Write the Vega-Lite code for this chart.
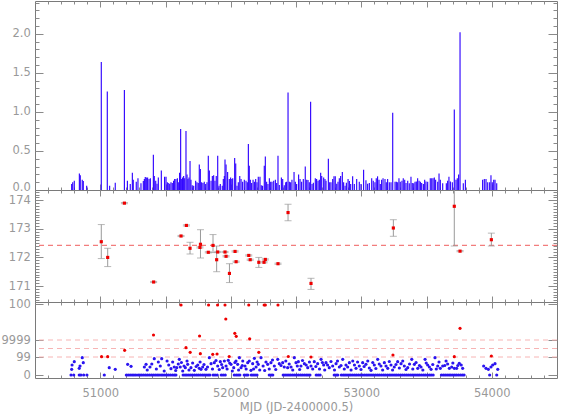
{
"$schema": "https://vega.github.io/schema/vega-lite/v6.json",
"background": "white",
"padding": {"left": 0, "top": 0, "right": 5, "bottom": 5},
"spacing": 0,
"bounds": "flush",
"config": {
  "view": {"stroke": "#7a7a7a", "strokeWidth": 1},
  "axis": {"domain": false, "grid": false, "labelFont": "DejaVu Sans", "labelFontSize": 11.5, "labelColor": "#999999", "tickColor": "#8a8a8a", "titleFont": "DejaVu Sans", "titleFontSize": 11.5, "titleColor": "#999999", "titleFontWeight": "normal", "labelFlush": false, "labelOverlap": false}
},
"datasets": {
  "flux": [
{"m":50781,"f":0.077},{"m":50789,"f":0.10},{"m":50801,"f":0.12},{"m":50840,"f":0.21},{"m":50847,"f":0.19},{"m":50862,"f":0.13},{"m":50870,"f":0.115},{"m":50896,"f":0.055},{"m":51008,"f":1.64},{"m":51054,"f":1.26},{"m":51072,"f":0.055},{"m":51115,"f":0.094},{"m":51185,"f":1.28},{"m":51208,"f":0.12},{"m":51230,"f":0.077},{"m":51246,"f":0.22},{"m":51253,"f":0.13},{"m":51276,"f":0.107},{"m":51289,"f":0.15},{"m":51312,"f":0.085},{"m":51330,"f":0.115},{"m":51338,"f":0.14},{"m":51345,"f":0.167},{"m":51353,"f":0.16},{"m":51363,"f":0.16},{"m":51374,"f":0.14},{"m":51384,"f":0.15},{"m":51407,"f":0.45},{"m":51414,"f":0.18},{"m":51425,"f":0.12},{"m":51435,"f":0.08},{"m":51445,"f":0.16},{"m":51468,"f":0.25},{"m":51493,"f":0.17},{"m":51504,"f":0.17},{"m":51514,"f":0.10},{"m":51521,"f":0.09},{"m":51532,"f":0.08},{"m":51542,"f":0.10},{"m":51552,"f":0.09},{"m":51562,"f":0.12},{"m":51570,"f":0.14},{"m":51580,"f":0.14},{"m":51591,"f":0.15},{"m":51601,"f":0.10},{"m":51608,"f":0.22},{"m":51616,"f":0.78},{"m":51624,"f":0.14},{"m":51631,"f":0.16},{"m":51639,"f":0.18},{"m":51647,"f":0.15},{"m":51657,"f":0.755},{"m":51665,"f":0.20},{"m":51672,"f":0.14},{"m":51680,"f":0.16},{"m":51688,"f":0.37},{"m":51695,"f":0.13},{"m":51705,"f":0.06},{"m":51716,"f":0.055},{"m":51731,"f":0.12},{"m":51741,"f":0.10},{"m":51751,"f":0.09},{"m":51759,"f":0.325},{"m":51767,"f":0.27},{"m":51777,"f":0.10},{"m":51787,"f":0.09},{"m":51797,"f":0.107},{"m":51808,"f":0.077},{"m":51818,"f":0.10},{"m":51828,"f":0.44},{"m":51836,"f":0.25},{"m":51849,"f":0.12},{"m":51859,"f":0.18},{"m":51869,"f":0.19},{"m":51879,"f":0.12},{"m":51889,"f":0.18},{"m":51900,"f":0.44},{"m":51910,"f":0.055},{"m":51920,"f":0.077},{"m":51935,"f":0.055},{"m":51943,"f":0.14},{"m":51951,"f":0.18},{"m":51956,"f":0.39},{"m":51964,"f":0.325},{"m":51976,"f":0.23},{"m":51989,"f":0.14},{"m":51999,"f":0.16},
{"m":52008,"f":0.14},{"m":52015,"f":0.15},{"m":52030,"f":0.41},{"m":52038,"f":0.34},{"m":52048,"f":0.055},{"m":52058,"f":0.10},{"m":52069,"f":0.18},{"m":52079,"f":0.14},{"m":52091,"f":0.107},{"m":52104,"f":0.13},{"m":52117,"f":0.12},{"m":52127,"f":0.10},{"m":52135,"f":0.59},{"m":52142,"f":0.31},{"m":52150,"f":0.13},{"m":52160,"f":0.09},{"m":52171,"f":0.13},{"m":52181,"f":0.107},{"m":52191,"f":0.14},{"m":52201,"f":0.10},{"m":52211,"f":0.17},{"m":52224,"f":0.17},{"m":52234,"f":0.06},{"m":52244,"f":0.055},{"m":52257,"f":0.31},{"m":52265,"f":0.43},{"m":52275,"f":0.107},{"m":52285,"f":0.077},{"m":52296,"f":0.15},{"m":52306,"f":0.107},{"m":52316,"f":0.107},{"m":52329,"f":0.12},{"m":52342,"f":0.13},{"m":52352,"f":0.09},{"m":52362,"f":0.44},{"m":52372,"f":0.064},{"m":52388,"f":0.16},{"m":52398,"f":0.14},{"m":52410,"f":0.06},{"m":52421,"f":0.10},{"m":52428,"f":0.107},{"m":52439,"f":1.25},{"m":52449,"f":0.107},{"m":52459,"f":0.10},{"m":52469,"f":0.13},{"m":52485,"f":0.23},{"m":52495,"f":0.107},{"m":52505,"f":0.077},{"m":52520,"f":0.20},{"m":52531,"f":0.14},{"m":52543,"f":0.107},{"m":52556,"f":0.14},{"m":52571,"f":0.30},{"m":52582,"f":0.13},{"m":52592,"f":0.128},{"m":52602,"f":0.10},{"m":52612,"f":1.13},{"m":52623,"f":0.077},{"m":52633,"f":0.094},{"m":52648,"f":0.15},{"m":52658,"f":0.14},{"m":52669,"f":0.12},{"m":52679,"f":0.13},{"m":52689,"f":0.22},{"m":52697,"f":0.18},{"m":52712,"f":0.16},{"m":52722,"f":0.14},{"m":52730,"f":0.12},{"m":52748,"f":0.40},{"m":52758,"f":0.10},{"m":52768,"f":0.10},{"m":52781,"f":0.14},{"m":52791,"f":0.175},{"m":52801,"f":0.175},{"m":52812,"f":0.08},{"m":52822,"f":0.107},{"m":52832,"f":0.15},{"m":52842,"f":0.18},{"m":52855,"f":0.23},{"m":52865,"f":0.10},{"m":52876,"f":0.055},{"m":52886,"f":0.094},{"m":52899,"f":0.14},{"m":52909,"f":0.115},{"m":52919,"f":0.077},{"m":52934,"f":0.175},{"m":52947,"f":0.077},{"m":52965,"f":0.14},{"m":52985,"f":0.107},{"m":52998,"f":0.077},{"m":53018,"f":0.26},{"m":53036,"f":0.124},{"m":53049,"f":0.08},{"m":53062,"f":0.09},{"m":53080,"f":0.15},{"m":53092,"f":0.12},{"m":53105,"f":0.10},{"m":53115,"f":0.15},{"m":53125,"f":0.175},{"m":53136,"f":0.13},{"m":53146,"f":0.077},{"m":53156,"f":0.13},{"m":53167,"f":0.15},{"m":53182,"f":0.14},{"m":53192,"f":0.10},{"m":53202,"f":0.14},{"m":53215,"f":0.10},{"m":53228,"f":0.10},{"m":53241,"f":0.99},
{"m":53259,"f":0.107},{"m":53269,"f":0.107},{"m":53279,"f":0.10},{"m":53289,"f":0.15},{"m":53299,"f":0.107},{"m":53312,"f":0.12},{"m":53322,"f":0.15},{"m":53333,"f":0.13},{"m":53343,"f":0.09},{"m":53356,"f":0.12},{"m":53368,"f":0.085},{"m":53381,"f":0.17},{"m":53391,"f":0.09},{"m":53402,"f":0.085},{"m":53412,"f":0.107},{"m":53422,"f":0.11},{"m":53432,"f":0.15},{"m":53443,"f":0.12},{"m":53453,"f":0.107},{"m":53463,"f":0.09},{"m":53476,"f":0.077},{"m":53486,"f":0.13},{"m":53496,"f":0.11},{"m":53509,"f":0.107},{"m":53529,"f":0.15},{"m":53540,"f":0.15},{"m":53550,"f":0.15},{"m":53560,"f":0.16},{"m":53570,"f":0.13},{"m":53586,"f":0.107},{"m":53596,"f":0.21},{"m":53606,"f":0.13},{"m":53624,"f":0.085},{"m":53652,"f":0.085},{"m":53662,"f":0.12},{"m":53672,"f":0.17},{"m":53683,"f":0.11},{"m":53698,"f":0.10},{"m":53713,"f":1.03},{"m":53726,"f":0.13},{"m":53736,"f":0.15},{"m":53746,"f":0.20},{"m":53757,"f":2.02},{"m":53782,"f":0.085},{"m":53798,"f":0.13},{"m":53930,"f":0.13},{"m":53943,"f":0.14},{"m":53956,"f":0.14},{"m":53969,"f":0.10},{"m":53984,"f":0.10},{"m":53994,"f":0.19},{"m":54004,"f":0.10},{"m":54015,"f":0.13},{"m":54025,"f":0.13},{"m":54038,"f":0.085}
  ],
  "pos": [
{"m":51008,"v":172.55,"lo":171.96,"hi":173.15},{"m":51057,"v":172.00,"lo":171.68,"hi":172.32},{"m":51185,"v":173.90,"lo":173.88,"hi":173.92},{"m":51409,"v":171.14,"lo":171.12,"hi":171.16},{"m":51619,"v":172.75,"lo":172.73,"hi":172.77},{"m":51660,"v":173.12,"lo":173.10,"hi":173.14},{"m":51688,"v":172.32,"lo":172.12,"hi":172.53},{"m":51764,"v":172.35,"lo":172.33,"hi":172.37},{"m":51768,"v":172.46,"lo":171.98,"hi":172.97},{"m":51828,"v":172.18,"lo":172.16,"hi":172.20},{"m":51864,"v":172.42,"lo":172.17,"hi":172.80},{"m":51892,"v":171.92,"lo":171.50,"hi":172.40},{"m":51900,"v":172.19,"lo":172.17,"hi":172.21},{"m":51956,"v":172.19,"lo":172.17,"hi":172.21},{"m":51964,"v":172.04,"lo":172.02,"hi":172.06},{"m":51990,"v":171.44,"lo":171.12,"hi":171.78},{"m":52033,"v":172.21,"lo":172.19,"hi":172.23},{"m":52041,"v":171.85,"lo":171.83,"hi":171.87},{"m":52138,"v":172.07,"lo":172.05,"hi":172.09},{"m":52149,"v":171.92,"lo":171.90,"hi":171.94},{"m":52215,"v":171.83,"lo":171.65,"hi":172.00},{"m":52255,"v":171.83,"lo":171.81,"hi":171.85},{"m":52265,"v":171.93,"lo":171.91,"hi":171.95},{"m":52362,"v":171.78,"lo":171.76,"hi":171.80},{"m":52439,"v":173.57,"lo":173.28,"hi":173.86},{"m":52615,"v":171.09,"lo":170.88,"hi":171.27},{"m":53246,"v":173.03,"lo":172.74,"hi":173.32},{"m":53713,"v":173.79,"lo":172.40,"hi":175.18},{"m":53757,"v":172.22,"lo":172.20,"hi":172.24},{"m":53997,"v":172.62,"lo":172.40,"hi":172.85}
  ],
  "blue": [
{"m":50776,"u":0},{"m":50797,"u":0},{"m":50839,"u":0},{"m":50852,"u":0},{"m":50873,"u":0},{"m":50898,"u":0},{"m":51031,"u":0},
{"m":51200,"u":0},{"m":51214,"u":0},{"m":51229,"u":0},{"m":51244,"u":0},{"m":51258,"u":0},{"m":51273,"u":0},{"m":51290,"u":0},{"m":51304,"u":0},{"m":51318,"u":0},{"m":51333,"u":0},{"m":51348,"u":0},{"m":51362,"u":0},{"m":51377,"u":0},{"m":51392,"u":0},{"m":51406,"u":0},{"m":51421,"u":0},{"m":51436,"u":0},{"m":51450,"u":0},{"m":51466,"u":0},{"m":51480,"u":0},{"m":51495,"u":0},{"m":51510,"u":0},{"m":51524,"u":0},{"m":51539,"u":0},{"m":51554,"u":0},{"m":51568,"u":0},{"m":51580,"u":0},
{"m":51635,"u":0},{"m":51650,"u":0},{"m":51664,"u":0},{"m":51679,"u":0},{"m":51694,"u":0},{"m":51708,"u":0},{"m":51723,"u":0},{"m":51738,"u":0},{"m":51752,"u":0},{"m":51767,"u":0},{"m":51782,"u":0},{"m":51796,"u":0},{"m":51811,"u":0},{"m":51826,"u":0},{"m":51840,"u":0},{"m":51865,"u":0},{"m":51880,"u":0},{"m":51896,"u":0},{"m":51927,"u":0},{"m":51942,"u":0},{"m":51958,"u":0},{"m":52027,"u":0},{"m":52042,"u":0},{"m":52056,"u":0},{"m":52070,"u":0},{"m":52103,"u":0},{"m":52118,"u":0},{"m":52131,"u":0},{"m":52157,"u":0},{"m":52171,"u":0},{"m":52186,"u":0},{"m":52201,"u":0},{"m":52295,"u":0},{"m":52309,"u":0},{"m":52322,"u":0},
{"m":52402,"u":0},{"m":52416,"u":0},{"m":52431,"u":0},{"m":52446,"u":0},{"m":52460,"u":0},{"m":52475,"u":0},{"m":52490,"u":0},{"m":52504,"u":0},{"m":52519,"u":0},{"m":52534,"u":0},{"m":52548,"u":0},{"m":52563,"u":0},{"m":52578,"u":0},{"m":52592,"u":0},{"m":52607,"u":0},{"m":52655,"u":0},{"m":52670,"u":0},{"m":52685,"u":0},{"m":52793,"u":0},{"m":52807,"u":0},{"m":52820,"u":0},
{"m":52847,"u":0},{"m":52862,"u":0},{"m":52876,"u":0},{"m":52891,"u":0},{"m":52906,"u":0},{"m":52920,"u":0},{"m":52935,"u":0},{"m":52950,"u":0},{"m":52964,"u":0},{"m":52979,"u":0},{"m":52994,"u":0},{"m":53008,"u":0},{"m":53023,"u":0},{"m":53038,"u":0},{"m":53052,"u":0},{"m":53067,"u":0},{"m":53082,"u":0},{"m":53096,"u":0},{"m":53111,"u":0},{"m":53126,"u":0},{"m":53140,"u":0},{"m":53155,"u":0},{"m":53170,"u":0},{"m":53184,"u":0},{"m":53199,"u":0},{"m":53214,"u":0},{"m":53228,"u":0},{"m":53243,"u":0},{"m":53258,"u":0},{"m":53272,"u":0},{"m":53287,"u":0},{"m":53302,"u":0},{"m":53316,"u":0},{"m":53331,"u":0},{"m":53346,"u":0},{"m":53360,"u":0},{"m":53375,"u":0},{"m":53390,"u":0},{"m":53404,"u":0},{"m":53419,"u":0},{"m":53434,"u":0},{"m":53448,"u":0},{"m":53463,"u":0},{"m":53478,"u":0},{"m":53492,"u":0},{"m":53507,"u":0},{"m":53522,"u":0},{"m":53536,"u":0},{"m":53551,"u":0},
{"m":53614,"u":0},{"m":53629,"u":0},{"m":53643,"u":0},{"m":53658,"u":0},{"m":53673,"u":0},{"m":53687,"u":0},{"m":53702,"u":0},{"m":53717,"u":0},{"m":53731,"u":0},{"m":53746,"u":0},{"m":53761,"u":0},{"m":53775,"u":0},{"m":53788,"u":0},{"m":53984,"u":0},{"m":54038,"u":0},
{"m":50781,"u":5.7},{"m":50784,"u":10},{"m":50801,"u":13.3},{"m":50839,"u":6.7},{"m":50845,"u":9},{"m":50862,"u":17.3},{"m":50870,"u":12.3},{"m":51069,"u":7.3},{"m":51115,"u":5.7},{"m":51210,"u":10.7},{"m":51236,"u":8.7},
{"m":51338,"u":8},{"m":51351,"u":10.7},{"m":51381,"u":8},{"m":51414,"u":16.3},{"m":51445,"u":13},{"m":51471,"u":16.3},{"m":51512,"u":14},{"m":51542,"u":6.3},{"m":51567,"u":8},{"m":51586,"u":7.3},{"m":51606,"u":15.7},{"m":51613,"u":8},{"m":51632,"u":4},{"m":51652,"u":7.3},{"m":51665,"u":14},{"m":51670,"u":10.7},{"m":51695,"u":7.3},{"m":51721,"u":4.7},{"m":51747,"u":10},{"m":51759,"u":6.7},{"m":51772,"u":5.7},{"m":51785,"u":8},{"m":51810,"u":5.7},{"m":51836,"u":17.3},{"m":51849,"u":11.3},{"m":51874,"u":12.3},{"m":51900,"u":9},{"m":51920,"u":13.3},{"m":51938,"u":7.3},{"m":51951,"u":14},{"m":51964,"u":9},{"m":51981,"u":14.7},{"m":52002,"u":10.7},{"m":52023,"u":7.3},{"m":52040,"u":14},{"m":52053,"u":10.7},{"m":52066,"u":17.3},{"m":52079,"u":7.3},{"m":52092,"u":14},{"m":52109,"u":9},{"m":52130,"u":12.3},{"m":52155,"u":4.7},{"m":52168,"u":11.3},{"m":52181,"u":16.7},{"m":52194,"u":8},{"m":52211,"u":10.7},{"m":52232,"u":17.3},{"m":52270,"u":13},{"m":52283,"u":10.7},{"m":52308,"u":12.3},{"m":52334,"u":9},{"m":52360,"u":15.7},{"m":52372,"u":11.3},{"m":52398,"u":12.3},{"m":52410,"u":8},{"m":52436,"u":7.3},{"m":52462,"u":8},{"m":52487,"u":17.3},{"m":52500,"u":12.3},{"m":52518,"u":13.3},{"m":52538,"u":9},{"m":52564,"u":11.3},{"m":52590,"u":7.3},{"m":52615,"u":9},{"m":52640,"u":13.3},{"m":52666,"u":11.3},{"m":52692,"u":15.7},{"m":52712,"u":10},{"m":52730,"u":12.3},{"m":52755,"u":7.3},{"m":52781,"u":9},{"m":52807,"u":11.3},{"m":52832,"u":8},{"m":52858,"u":15.7},{"m":52883,"u":10},{"m":52909,"u":12.3},{"m":52935,"u":14},{"m":52960,"u":6.7},{"m":52985,"u":9},{"m":53011,"u":12.3},{"m":53036,"u":10.7},{"m":53075,"u":4.7},{"m":53100,"u":10},{"m":53126,"u":15.7},{"m":53151,"u":9},{"m":53177,"u":12.3},{"m":53203,"u":6.7},{"m":53228,"u":10},{"m":53253,"u":8},{"m":53279,"u":13.3},{"m":53305,"u":11.3},{"m":53330,"u":9},{"m":53356,"u":7.3},{"m":53387,"u":15.7},{"m":53407,"u":10.7},{"m":53433,"u":6.7},{"m":53458,"u":8},{"m":53489,"u":15.7},{"m":53509,"u":10},{"m":53535,"u":5.7},{"m":53565,"u":17.3},{"m":53586,"u":9},{"m":53606,"u":6.7},{"m":53624,"u":9},{"m":53650,"u":14},{"m":53675,"u":6.7},{"m":53693,"u":8},{"m":53713,"u":6.7},{"m":53731,"u":6.7},{"m":53751,"u":11.7},{"m":53777,"u":6.7},{"m":53938,"u":9},{"m":53956,"u":6.7},{"m":53974,"u":5.7},{"m":53994,"u":8},{"m":54007,"u":10},{"m":54025,"u":11.3},{"m":54046,"u":5.7},
{"m":51360,"u":5},{"m":51395,"u":11},{"m":51430,"u":6},{"m":51460,"u":9},{"m":51490,"u":4},{"m":51525,"u":10},{"m":51555,"u":13},{"m":51578,"u":4.5},{"m":51598,"u":11},{"m":51622,"u":12.5},{"m":51642,"u":9},{"m":51680,"u":5},{"m":51708,"u":12},{"m":51735,"u":8.5},{"m":51765,"u":13},{"m":51795,"u":10.5},{"m":51822,"u":8},{"m":51860,"u":6},{"m":51887,"u":14.5},{"m":51912,"u":5.5},{"m":51930,"u":10.5},{"m":51972,"u":6},{"m":51992,"u":12},{"m":52012,"u":4},{"m":52032,"u":12.5},{"m":52060,"u":5},{"m":52088,"u":9.5},{"m":52118,"u":6},{"m":52142,"u":14},{"m":52175,"u":6},{"m":52202,"u":13},{"m":52222,"u":5},{"m":52248,"u":9},{"m":52260,"u":4.5},{"m":52295,"u":6},{"m":52320,"u":15},{"m":52345,"u":5.5},{"m":52385,"u":9.5},{"m":52422,"u":14},{"m":52448,"u":11},{"m":52475,"u":5},{"m":52510,"u":9},{"m":52528,"u":5.5},{"m":52550,"u":14.5},{"m":52578,"u":10},{"m":52603,"u":13},{"m":52628,"u":6},{"m":52652,"u":8.5},{"m":52680,"u":6},{"m":52702,"u":12.5},{"m":52720,"u":5},{"m":52742,"u":10},{"m":52768,"u":13.5},{"m":52795,"u":5},{"m":52818,"u":14},{"m":52845,"u":9.5},{"m":52870,"u":6},{"m":52896,"u":8},{"m":52922,"u":5},{"m":52948,"u":10},{"m":52972,"u":13},{"m":52998,"u":5.5},{"m":53022,"u":8.5},{"m":53050,"u":14},{"m":53062,"u":7},{"m":53088,"u":12.5},{"m":53112,"u":6.5},{"m":53138,"u":11},{"m":53164,"u":5},{"m":53190,"u":9},{"m":53215,"u":13.5},{"m":53240,"u":5},{"m":53266,"u":10.5},{"m":53292,"u":7},{"m":53318,"u":14},{"m":53343,"u":5.5},{"m":53370,"u":11},{"m":53395,"u":6},{"m":53420,"u":12.5},{"m":53446,"u":9.5},{"m":53472,"u":5},{"m":53498,"u":12},{"m":53522,"u":8},{"m":53548,"u":10.5},{"m":53575,"u":6},{"m":53596,"u":13},{"m":53640,"u":9.5},{"m":53662,"u":11},{"m":53702,"u":12},{"m":53740,"u":9.5},{"m":53766,"u":10}
  ],
  "red": [
{"m":51010,"u":18.3},{"m":51057,"u":18.3},{"m":51187,"u":24.7},{"m":51408,"u":40},{"m":51619,"u":70},{"m":51657,"u":27.3},{"m":51689,"u":22.7},{"m":51761,"u":39},{"m":51767,"u":21.3},{"m":51830,"u":70},{"m":51862,"u":20.7},{"m":51895,"u":21},{"m":51899,"u":70},{"m":51956,"u":70},{"m":51962,"u":56},{"m":51988,"u":18.5},{"m":52031,"u":41.7},{"m":52042,"u":38.7},{"m":52138,"u":70},{"m":52145,"u":36.2},{"m":52215,"u":22.7},{"m":52256,"u":70},{"m":52265,"u":70},{"m":52362,"u":70},{"m":52441,"u":18.5},{"m":52615,"u":18},{"m":53243,"u":20},{"m":53713,"u":18.3},{"m":53757,"u":46.7},{"m":53997,"u":19}
  ],
  "lines": [{"u": 18}, {"u": 26.5}, {"u": 35}],
  "ref": [{"c": 172.42}]
},
"vconcat": [
{
  "width": 522, "height": 189,
  "data": {"name": "flux"},
  "layer": [
    {"mark": {"type": "rule", "color": "#3005ff", "strokeWidth": 1.15},
     "encoding": {
       "x": {"field": "m", "type": "quantitative", "scale": {"domain": [50500, 54500], "nice": false, "zero": false}, "axis": {"orient": "bottom", "values": [51000,51500,52000,52500,53000,53500,54000], "tickSize": -6, "labels": false, "title": null}},
       "y": {"field": "f", "type": "quantitative", "scale": {"domain": [0, 2.42], "nice": false, "zero": false}, "axis": {"orient": "left", "values": [0,0.5,1,1.5,2], "format": ".1f", "tickSize": -8, "labelPadding": 12.7, "labelBaseline": {"condition": {"test": "datum.value == 0", "value": "alphabetic"}, "value": "middle"}, "title": null}},
       "y2": {"datum": 0}
     }},
    {"mark": {"type": "point", "opacity": 0},
     "encoding": {
       "x": {"field": "m", "type": "quantitative", "scale": {"domain": [50500, 54500], "nice": false, "zero": false}, "axis": {"orient": "bottom", "values": [50600,50700,50800,50900,51000,51100,51200,51300,51400,51500,51600,51700,51800,51900,52000,52100,52200,52300,52400,52500,52600,52700,52800,52900,53000,53100,53200,53300,53400,53500,53600,53700,53800,53900,54000,54100,54200,54300,54400], "tickSize": -3, "labels": false, "title": null}},
       "y": {"field": "f", "type": "quantitative", "scale": {"domain": [0, 2.42], "nice": false, "zero": false}, "axis": {"orient": "left", "values": [0.1,0.2,0.3,0.4,0.6,0.7,0.8,0.9,1.1,1.2,1.3,1.4,1.6,1.7,1.8,1.9,2.1,2.2,2.3,2.4], "tickSize": -4, "labels": false, "title": null}}
     }},
    {"mark": {"type": "point", "opacity": 0},
     "encoding": {
       "x": {"field": "m", "type": "quantitative", "scale": {"domain": [50500, 54500], "nice": false, "zero": false}, "axis": {"orient": "top", "values": [51000,51500,52000,52500,53000,53500,54000], "tickSize": -6, "labels": false, "title": null}},
       "y": {"field": "f", "type": "quantitative", "scale": {"domain": [0, 2.42], "nice": false, "zero": false}, "axis": {"orient": "right", "values": [0,0.5,1,1.5,2], "tickSize": -9, "labels": false, "title": null}}
     }},
    {"mark": {"type": "point", "opacity": 0},
     "encoding": {
       "x": {"field": "m", "type": "quantitative", "scale": {"domain": [50500, 54500], "nice": false, "zero": false}, "axis": {"orient": "top", "values": [50600,50700,50800,50900,51000,51100,51200,51300,51400,51500,51600,51700,51800,51900,52000,52100,52200,52300,52400,52500,52600,52700,52800,52900,53000,53100,53200,53300,53400,53500,53600,53700,53800,53900,54000,54100,54200,54300,54400], "tickSize": -3, "labels": false, "title": null}},
       "y": {"field": "f", "type": "quantitative", "scale": {"domain": [0, 2.42], "nice": false, "zero": false}, "axis": {"orient": "right", "values": [0.1,0.2,0.3,0.4,0.6,0.7,0.8,0.9,1.1,1.2,1.3,1.4,1.6,1.7,1.8,1.9,2.1,2.2,2.3,2.4], "tickSize": -4, "labels": false, "title": null}}
     }}
  ],
  "resolve": {"axis": {"x": "independent", "y": "independent"}}
},
{
  "width": 522, "height": 112,
  "data": {"name": "pos"},
  "layer": [
    {"data": {"name": "ref"},
     "mark": {"type": "rule", "strokeDash": [5, 4], "strokeWidth": 1.2},
     "encoding": {"y": {"field": "c", "type": "quantitative", "scale": {"domain": [170.44, 174.36], "nice": false, "zero": false}, "axis": null}, "color": {"value": "#f27d7d"}}},
    {"mark": {"type": "errorbar", "ticks": {"size": 7}, "color": "#9a9a9a", "clip": true},
     "encoding": {
       "x": {"field": "m", "type": "quantitative", "scale": {"domain": [50500, 54500], "nice": false, "zero": false}, "axis": null},
       "y": {"field": "lo", "type": "quantitative", "scale": {"domain": [170.44, 174.36], "nice": false, "zero": false}, "axis": null},
       "y2": {"field": "hi"}
     }},
    {"mark": {"type": "square", "filled": true, "size": 10, "color": "#ee0000", "opacity": 1},
     "encoding": {
       "x": {"field": "m", "type": "quantitative", "scale": {"domain": [50500, 54500], "nice": false, "zero": false}, "axis": {"orient": "bottom", "values": [51000,51500,52000,52500,53000,53500,54000], "tickSize": -6, "labels": false, "title": null}},
       "y": {"field": "v", "type": "quantitative", "scale": {"domain": [170.44, 174.36], "nice": false, "zero": false}, "axis": {"orient": "left", "values": [171,172,173,174], "tickSize": -8, "labelPadding": 12.7, "title": null}}
     }},
    {"mark": {"type": "point", "opacity": 0},
     "encoding": {
       "x": {"field": "m", "type": "quantitative", "scale": {"domain": [50500, 54500], "nice": false, "zero": false}, "axis": {"orient": "bottom", "values": [50600,50700,50800,50900,51000,51100,51200,51300,51400,51500,51600,51700,51800,51900,52000,52100,52200,52300,52400,52500,52600,52700,52800,52900,53000,53100,53200,53300,53400,53500,53600,53700,53800,53900,54000,54100,54200,54300,54400], "tickSize": -3, "labels": false, "title": null}},
       "y": {"field": "v", "type": "quantitative", "scale": {"domain": [170.44, 174.36], "nice": false, "zero": false}, "axis": {"orient": "left", "values": [170.5,170.6,170.7,170.8,170.9,171.1,171.2,171.3,171.4,171.5,171.6,171.7,171.8,171.9,172.1,172.2,172.3,172.4,172.5,172.6,172.7,172.8,172.9,173.1,173.2,173.3,173.4,173.5,173.6,173.7,173.8,173.9,174.1,174.2,174.3], "tickSize": -4, "labels": false, "title": null}}
     }},
    {"mark": {"type": "point", "opacity": 0},
     "encoding": {
       "x": {"field": "m", "type": "quantitative", "scale": {"domain": [50500, 54500], "nice": false, "zero": false}, "axis": {"orient": "top", "values": [51000,51500,52000,52500,53000,53500,54000], "tickSize": -6, "labels": false, "title": null}},
       "y": {"field": "v", "type": "quantitative", "scale": {"domain": [170.44, 174.36], "nice": false, "zero": false}, "axis": {"orient": "right", "values": [171,172,173,174], "tickSize": -9, "labels": false, "title": null}}
     }},
    {"mark": {"type": "point", "opacity": 0},
     "encoding": {
       "x": {"field": "m", "type": "quantitative", "scale": {"domain": [50500, 54500], "nice": false, "zero": false}, "axis": {"orient": "top", "values": [50600,50700,50800,50900,51000,51100,51200,51300,51400,51500,51600,51700,51800,51900,52000,52100,52200,52300,52400,52500,52600,52700,52800,52900,53000,53100,53200,53300,53400,53500,53600,53700,53800,53900,54000,54100,54200,54300,54400], "tickSize": -3, "labels": false, "title": null}},
       "y": {"field": "v", "type": "quantitative", "scale": {"domain": [170.44, 174.36], "nice": false, "zero": false}, "axis": {"orient": "right", "values": [170.5,170.6,170.7,170.8,170.9,171.1,171.2,171.3,171.4,171.5,171.6,171.7,171.8,171.9,172.1,172.2,172.3,172.4,172.5,172.6,172.7,172.8,172.9,173.1,173.2,173.3,173.4,173.5,173.6,173.7,173.8,173.9,174.1,174.2,174.3], "tickSize": -4, "labels": false, "title": null}}
     }}
  ],
  "resolve": {"axis": {"x": "independent", "y": "independent"}}
},
{
  "width": 522, "height": 76,
  "data": {"name": "blue"},
  "layer": [
    {"data": {"name": "lines"},
     "mark": {"type": "rule", "color": "#f7b4b4", "strokeDash": [5, 4], "strokeWidth": 1},
     "encoding": {"y": {"field": "u", "type": "quantitative", "scale": {"domain": [-3, 73], "nice": false, "zero": false}, "axis": null}}},
    {"mark": {"type": "circle", "size": 10, "color": "#2a14f0", "opacity": 1},
     "encoding": {
       "x": {"field": "m", "type": "quantitative", "scale": {"domain": [50500, 54500], "nice": false, "zero": false}, "axis": {"orient": "bottom", "values": [51000,51500,52000,52500,53000,53500,54000], "tickSize": -6, "labelPadding": 15, "labelExpr": "datum.value % 1000 == 0 ? format(datum.value, 'd') : ''", "title": "MJD (JD-2400000.5)", "titlePadding": 3}},
       "y": {"field": "u", "type": "quantitative", "scale": {"domain": [-3, 73], "nice": false, "zero": false}, "axis": {"orient": "left", "values": [0, 18, 35, 71], "tickSize": -8, "labelPadding": 12.7, "labelExpr": "datum.value == 0 ? '0' : datum.value == 18 ? '99' : datum.value == 35 ? '9999' : '100'", "title": null}}
     }},
    {"mark": {"type": "point", "opacity": 0},
     "encoding": {
       "x": {"field": "m", "type": "quantitative", "scale": {"domain": [50500, 54500], "nice": false, "zero": false}, "axis": {"orient": "bottom", "values": [50600,50700,50800,50900,51000,51100,51200,51300,51400,51500,51600,51700,51800,51900,52000,52100,52200,52300,52400,52500,52600,52700,52800,52900,53000,53100,53200,53300,53400,53500,53600,53700,53800,53900,54000,54100,54200,54300,54400], "tickSize": -3, "labels": false, "title": null}},
       "y": {"field": "u", "type": "quantitative", "scale": {"domain": [-3, 73], "nice": false, "zero": false}, "axis": null}
     }},
    {"mark": {"type": "point", "opacity": 0},
     "encoding": {
       "x": {"field": "m", "type": "quantitative", "scale": {"domain": [50500, 54500], "nice": false, "zero": false}, "axis": {"orient": "top", "values": [51000,51500,52000,52500,53000,53500,54000], "tickSize": -6, "labels": false, "title": null}},
       "y": {"field": "u", "type": "quantitative", "scale": {"domain": [-3, 73], "nice": false, "zero": false}, "axis": {"orient": "right", "values": [0, 18, 35, 71], "tickSize": -9, "labels": false, "title": null}}
     }},
    {"mark": {"type": "point", "opacity": 0},
     "encoding": {
       "x": {"field": "m", "type": "quantitative", "scale": {"domain": [50500, 54500], "nice": false, "zero": false}, "axis": {"orient": "top", "values": [50600,50700,50800,50900,51000,51100,51200,51300,51400,51500,51600,51700,51800,51900,52000,52100,52200,52300,52400,52500,52600,52700,52800,52900,53000,53100,53200,53300,53400,53500,53600,53700,53800,53900,54000,54100,54200,54300,54400], "tickSize": -3, "labels": false, "title": null}},
       "y": {"field": "u", "type": "quantitative", "scale": {"domain": [-3, 73], "nice": false, "zero": false}, "axis": null}
     }},
    {"data": {"name": "red"},
     "mark": {"type": "circle", "size": 10, "color": "#ee0000", "opacity": 1},
     "encoding": {
       "x": {"field": "m", "type": "quantitative", "scale": {"domain": [50500, 54500], "nice": false, "zero": false}, "axis": null},
       "y": {"field": "u", "type": "quantitative", "scale": {"domain": [-3, 73], "nice": false, "zero": false}, "axis": null}
     }}
  ],
  "resolve": {"axis": {"x": "independent", "y": "independent"}}
}
]
}
